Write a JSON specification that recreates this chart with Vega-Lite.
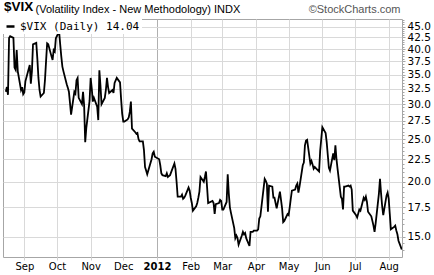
{
 "$schema": "https://vega.github.io/schema/vega-lite/v6.json",
 "width": 399, "height": 238,
 "autosize": {"type": "none"},
 "padding": {"left": 3, "top": 19, "right": 32, "bottom": 18},
 "background": "white",
 "config": {"view": {"stroke": "#a6a6a6", "strokeWidth": 1}},
 "title": {"text": "$VIX", "anchor": "start", "font": "Liberation Sans", "fontSize": 13.5, "fontWeight": "bold", "color": "black", "baseline": "alphabetic", "offset": 0, "dy": 21, "dx": 1, "frame": "group"},
 "data": {"values": [
{"date":"2011-08-15","vix":32.0},{"date":"2011-08-16","vix":32.8},{"date":"2011-08-17","vix":31.5},{"date":"2011-08-18","vix":42.4},{"date":"2011-08-19","vix":42.8},{"date":"2011-08-22","vix":42.4},{"date":"2011-08-23","vix":36.3},{"date":"2011-08-24","vix":35.9},{"date":"2011-08-25","vix":39.8},{"date":"2011-08-26","vix":35.6},{"date":"2011-08-29","vix":32.3},{"date":"2011-08-30","vix":32.8},{"date":"2011-08-31","vix":31.6},
{"date":"2011-09-01","vix":31.9},{"date":"2011-09-02","vix":33.8},{"date":"2011-09-06","vix":36.8},{"date":"2011-09-07","vix":33.4},{"date":"2011-09-08","vix":35.6},{"date":"2011-09-09","vix":41.0},{"date":"2011-09-12","vix":41.3},{"date":"2011-09-13","vix":38.0},{"date":"2011-09-14","vix":34.4},{"date":"2011-09-15","vix":32.3},{"date":"2011-09-16","vix":31.2},{"date":"2011-09-19","vix":31.8},{"date":"2011-09-20","vix":34.0},{"date":"2011-09-21","vix":37.5},{"date":"2011-09-22","vix":41.2},{"date":"2011-09-23","vix":41.0},{"date":"2011-09-26","vix":38.5},{"date":"2011-09-27","vix":37.8},{"date":"2011-09-28","vix":39.8},{"date":"2011-09-29","vix":39.5},{"date":"2011-09-30","vix":42.3},
{"date":"2011-10-03","vix":43.8},{"date":"2011-10-04","vix":41.0},{"date":"2011-10-05","vix":38.5},{"date":"2011-10-06","vix":36.5},{"date":"2011-10-07","vix":35.6},{"date":"2011-10-10","vix":33.3},{"date":"2011-10-11","vix":32.7},{"date":"2011-10-12","vix":32.0},{"date":"2011-10-13","vix":30.2},{"date":"2011-10-14","vix":28.4},{"date":"2011-10-17","vix":32.0},{"date":"2011-10-18","vix":31.7},{"date":"2011-10-19","vix":34.0},{"date":"2011-10-20","vix":34.4},{"date":"2011-10-21","vix":31.0},{"date":"2011-10-24","vix":30.0},{"date":"2011-10-25","vix":32.0},{"date":"2011-10-26","vix":29.8},{"date":"2011-10-27","vix":24.6},{"date":"2011-10-28","vix":26.5},{"date":"2011-10-31","vix":30.5},
{"date":"2011-11-01","vix":34.4},{"date":"2011-11-02","vix":32.6},{"date":"2011-11-03","vix":30.4},{"date":"2011-11-04","vix":31.0},{"date":"2011-11-07","vix":29.6},{"date":"2011-11-08","vix":27.6},{"date":"2011-11-09","vix":35.8},{"date":"2011-11-10","vix":33.1},{"date":"2011-11-11","vix":30.0},{"date":"2011-11-14","vix":31.0},{"date":"2011-11-15","vix":32.3},{"date":"2011-11-16","vix":34.4},{"date":"2011-11-17","vix":32.8},{"date":"2011-11-18","vix":31.8},{"date":"2011-11-21","vix":32.3},{"date":"2011-11-22","vix":31.8},{"date":"2011-11-23","vix":33.5},{"date":"2011-11-25","vix":34.4},{"date":"2011-11-28","vix":33.6},{"date":"2011-11-29","vix":30.8},{"date":"2011-11-30","vix":28.5},
{"date":"2011-12-01","vix":27.4},{"date":"2011-12-02","vix":27.4},{"date":"2011-12-05","vix":27.7},{"date":"2011-12-06","vix":28.0},{"date":"2011-12-07","vix":28.8},{"date":"2011-12-08","vix":30.4},{"date":"2011-12-09","vix":26.4},{"date":"2011-12-12","vix":25.9},{"date":"2011-12-13","vix":25.7},{"date":"2011-12-14","vix":25.8},{"date":"2011-12-15","vix":25.0},{"date":"2011-12-16","vix":24.7},{"date":"2011-12-19","vix":24.7},{"date":"2011-12-20","vix":23.6},{"date":"2011-12-21","vix":21.6},{"date":"2011-12-22","vix":21.2},{"date":"2011-12-23","vix":20.8},{"date":"2011-12-27","vix":22.5},{"date":"2011-12-28","vix":23.2},{"date":"2011-12-29","vix":23.4},{"date":"2011-12-30","vix":22.8},
{"date":"2012-01-03","vix":22.5},{"date":"2012-01-04","vix":21.8},{"date":"2012-01-05","vix":20.9},{"date":"2012-01-06","vix":20.7},{"date":"2012-01-09","vix":20.6},{"date":"2012-01-10","vix":20.9},{"date":"2012-01-11","vix":20.5},{"date":"2012-01-12","vix":20.6},{"date":"2012-01-13","vix":20.7},{"date":"2012-01-17","vix":22.0},{"date":"2012-01-18","vix":21.4},{"date":"2012-01-19","vix":20.0},{"date":"2012-01-20","vix":18.5},{"date":"2012-01-23","vix":18.5},{"date":"2012-01-24","vix":18.7},{"date":"2012-01-25","vix":18.3},{"date":"2012-01-26","vix":18.4},{"date":"2012-01-27","vix":18.6},{"date":"2012-01-30","vix":19.4},{"date":"2012-01-31","vix":19.1},
{"date":"2012-02-01","vix":18.4},{"date":"2012-02-02","vix":17.9},{"date":"2012-02-03","vix":17.2},{"date":"2012-02-06","vix":17.6},{"date":"2012-02-07","vix":17.9},{"date":"2012-02-08","vix":18.4},{"date":"2012-02-09","vix":19.0},{"date":"2012-02-10","vix":20.5},{"date":"2012-02-13","vix":20.0},{"date":"2012-02-14","vix":20.5},{"date":"2012-02-15","vix":21.1},{"date":"2012-02-16","vix":19.5},{"date":"2012-02-17","vix":17.9},{"date":"2012-02-21","vix":18.1},{"date":"2012-02-22","vix":17.9},{"date":"2012-02-23","vix":16.9},{"date":"2012-02-24","vix":17.8},{"date":"2012-02-27","vix":17.9},{"date":"2012-02-28","vix":18.2},{"date":"2012-02-29","vix":18.1},
{"date":"2012-03-01","vix":17.3},{"date":"2012-03-02","vix":17.3},{"date":"2012-03-05","vix":18.0},{"date":"2012-03-06","vix":20.8},{"date":"2012-03-07","vix":18.8},{"date":"2012-03-08","vix":17.5},{"date":"2012-03-09","vix":17.0},{"date":"2012-03-12","vix":15.7},{"date":"2012-03-13","vix":14.9},{"date":"2012-03-14","vix":15.1},{"date":"2012-03-15","vix":14.9},{"date":"2012-03-16","vix":14.4},{"date":"2012-03-19","vix":15.1},{"date":"2012-03-20","vix":15.4},{"date":"2012-03-21","vix":15.2},{"date":"2012-03-22","vix":15.3},{"date":"2012-03-23","vix":14.9},{"date":"2012-03-26","vix":14.3},{"date":"2012-03-27","vix":15.4},{"date":"2012-03-28","vix":15.4},{"date":"2012-03-29","vix":15.4},{"date":"2012-03-30","vix":15.5},
{"date":"2012-04-02","vix":15.5},{"date":"2012-04-03","vix":15.6},{"date":"2012-04-04","vix":16.5},{"date":"2012-04-05","vix":16.7},{"date":"2012-04-09","vix":20.3},{"date":"2012-04-10","vix":20.1},{"date":"2012-04-11","vix":19.8},{"date":"2012-04-12","vix":17.1},{"date":"2012-04-13","vix":19.6},{"date":"2012-04-16","vix":19.5},{"date":"2012-04-17","vix":18.4},{"date":"2012-04-18","vix":18.4},{"date":"2012-04-19","vix":17.9},{"date":"2012-04-20","vix":17.4},{"date":"2012-04-23","vix":19.0},{"date":"2012-04-24","vix":18.2},{"date":"2012-04-25","vix":17.4},{"date":"2012-04-26","vix":16.2},{"date":"2012-04-27","vix":16.3},{"date":"2012-04-30","vix":16.9},
{"date":"2012-05-01","vix":16.8},{"date":"2012-05-02","vix":17.5},{"date":"2012-05-03","vix":18.3},{"date":"2012-05-04","vix":19.1},{"date":"2012-05-07","vix":19.2},{"date":"2012-05-08","vix":19.6},{"date":"2012-05-09","vix":19.8},{"date":"2012-05-10","vix":18.9},{"date":"2012-05-11","vix":19.5},{"date":"2012-05-14","vix":21.8},{"date":"2012-05-15","vix":22.1},{"date":"2012-05-16","vix":24.2},{"date":"2012-05-17","vix":24.8},{"date":"2012-05-18","vix":24.9},{"date":"2012-05-21","vix":22.0},{"date":"2012-05-22","vix":22.3},{"date":"2012-05-23","vix":21.9},{"date":"2012-05-24","vix":21.4},{"date":"2012-05-25","vix":21.6},{"date":"2012-05-29","vix":21.1},{"date":"2012-05-30","vix":23.5},{"date":"2012-05-31","vix":25.0},
{"date":"2012-06-01","vix":26.6},{"date":"2012-06-04","vix":25.8},{"date":"2012-06-05","vix":24.6},{"date":"2012-06-06","vix":23.0},{"date":"2012-06-07","vix":21.5},{"date":"2012-06-08","vix":21.2},{"date":"2012-06-11","vix":23.2},{"date":"2012-06-12","vix":22.4},{"date":"2012-06-13","vix":24.2},{"date":"2012-06-14","vix":22.5},{"date":"2012-06-15","vix":21.4},{"date":"2012-06-18","vix":18.5},{"date":"2012-06-19","vix":18.3},{"date":"2012-06-20","vix":17.3},{"date":"2012-06-21","vix":19.5},{"date":"2012-06-22","vix":19.5},{"date":"2012-06-25","vix":19.6},{"date":"2012-06-26","vix":19.5},{"date":"2012-06-27","vix":19.6},{"date":"2012-06-28","vix":19.2},{"date":"2012-06-29","vix":17.2},
{"date":"2012-07-02","vix":16.8},{"date":"2012-07-03","vix":16.6},{"date":"2012-07-05","vix":17.3},{"date":"2012-07-06","vix":17.2},{"date":"2012-07-09","vix":18.4},{"date":"2012-07-10","vix":18.2},{"date":"2012-07-11","vix":18.5},{"date":"2012-07-12","vix":18.0},{"date":"2012-07-13","vix":17.1},{"date":"2012-07-16","vix":16.7},{"date":"2012-07-17","vix":16.3},{"date":"2012-07-18","vix":15.9},{"date":"2012-07-19","vix":15.4},{"date":"2012-07-20","vix":16.1},{"date":"2012-07-23","vix":18.8},{"date":"2012-07-24","vix":20.3},{"date":"2012-07-25","vix":18.8},{"date":"2012-07-26","vix":17.6},{"date":"2012-07-27","vix":16.8},{"date":"2012-07-30","vix":18.6},{"date":"2012-07-31","vix":18.9},
{"date":"2012-08-01","vix":18.3},{"date":"2012-08-02","vix":16.9},{"date":"2012-08-03","vix":15.6},{"date":"2012-08-06","vix":15.8},{"date":"2012-08-07","vix":15.9},{"date":"2012-08-08","vix":15.5},{"date":"2012-08-09","vix":15.2},{"date":"2012-08-10","vix":14.7},{"date":"2012-08-13","vix":14.04}
 ]},
 "mark": {"type": "line", "color": "black", "strokeWidth": 1.8, "clip": true},
 "encoding": {
  "x": {"field": "date", "type": "temporal",
   "scale": {"type": "utc", "domain": [{"year": 2011, "month": 8, "date": 12, "hours": 10, "utc": true}, {"year": 2012, "month": 8, "date": 13, "hours": 5, "minutes": 30, "utc": true}]},
   "axis": {
    "values": [{"year":2011,"month":9,"date":1,"utc":true},{"year":2011,"month":10,"date":1,"utc":true},{"year":2011,"month":11,"date":1,"utc":true},{"year":2011,"month":12,"date":1,"utc":true},{"year":2012,"month":1,"date":1,"utc":true},{"year":2012,"month":2,"date":1,"utc":true},{"year":2012,"month":3,"date":1,"utc":true},{"year":2012,"month":4,"date":1,"utc":true},{"year":2012,"month":5,"date":1,"utc":true},{"year":2012,"month":6,"date":1,"utc":true},{"year":2012,"month":7,"date":1,"utc":true},{"year":2012,"month":8,"date":1,"utc":true}],
    "labelExpr": "utcmonth(datum.value) === 0 ? utcFormat(datum.value, '%Y') : utcFormat(datum.value, '%b')",
    "labelFontWeight": {"condition": {"test": "utcmonth(datum.value) === 0", "value": "bold"}, "value": "normal"},
    "gridColor": {"condition": {"test": "utcmonth(datum.value) === 0", "value": "#b0b0b0"}, "value": "#d9d9d9"},
    "grid": true, "domain": false, "ticks": true, "tickSize": 3, "tickColor": "#d0d0d0",
    "labelPadding": 1, "labelFont": "DejaVu Sans", "labelFontSize": 10, "labelColor": "black",
    "labelFlush": false, "labelOverlap": false,
    "title": "(Volatility Index - New Methodology) INDX",
    "titleX": 32, "titleY": -245, "titleAlign": "left", "titleBaseline": "alphabetic",
    "titleFont": "Liberation Sans", "titleFontSize": 11, "titleFontWeight": "normal", "titleColor": "black"
   }
  },
  "y": {"field": "vix", "type": "quantitative",
   "scale": {"type": "log", "domain": [13.5, 46.8], "nice": false, "zero": false},
   "axis": {
    "orient": "right",
    "values": [14,14.5,15,15.5,16,16.5,17,17.5,18,18.5,19,19.5,20,20.5,21,21.5,22,22.5,23,23.5,24,24.5,25,25.5,26,26.5,27,27.5,28,28.5,29,29.5,30,30.5,31,31.5,32,32.5,33,33.5,34,34.5,35,35.5,36,36.5,37,37.5,38,38.5,39,39.5,40,40.5,41,41.5,42,42.5,43,43.5,44,44.5,45,45.5,46,46.5],
    "labelExpr": "(datum.value * 2) % 5 === 0 ? format(datum.value, '.1f') : ''",
    "domain": false, "ticks": true,
    "tickSize": {"condition": {"test": "(datum.value * 2) % 5 === 0", "value": 3}, "value": 2},
    "tickColor": "#a6a6a6",
    "labelPadding": 2, "labelFont": "DejaVu Sans", "labelFontSize": 10.5, "labelColor": "black",
    "labelOverlap": false, "labelBound": false,
    "grid": true,
    "gridColor": "#d9d9d9",
    "gridOpacity": {"condition": {"test": "(datum.value * 2) % 5 === 0", "value": 1}, "value": 0},
    "title": "©StockCharts.com", "titleAngle": 0, "titleX": -2, "titleY": -7,
    "titleAlign": "right", "titleBaseline": "alphabetic",
    "titleFont": "Liberation Sans", "titleFontSize": 11, "titleFontWeight": "normal", "titleColor": "#555555"
   }
  },
  "color": {"datum": "$VIX (Daily) 14.04", "type": "nominal",
   "scale": {"range": ["black"]},
   "legend": {"orient": "top-left", "offset": 0, "padding": 2, "fillColor": "white", "title": null,
    "symbolType": "stroke", "symbolStrokeWidth": 2.5, "symbolSize": 64, "symbolStrokeColor": "black",
    "labelFont": "DejaVu Sans Mono", "labelFontSize": 11, "labelColor": "black", "labelOffset": 4, "labelLimit": 300}
  }
 }
}
